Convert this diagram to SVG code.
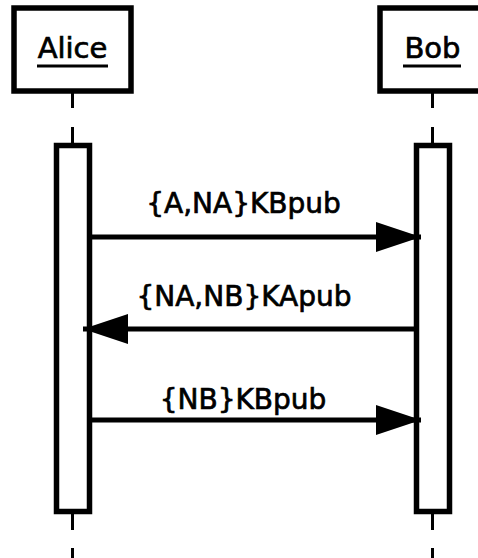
<svg xmlns="http://www.w3.org/2000/svg" width="478" height="558" viewBox="0 0 478 558">
<style>
.box{fill:#fff;stroke:#000;stroke-width:5.5}
.life{stroke:#000;stroke-width:3;fill:none}
.msg{stroke:#000;stroke-width:5;fill:none}
.name{font-family:"DejaVu Sans",sans-serif;font-size:29px;text-anchor:middle;fill:#000;stroke:#000;stroke-width:0.7}
.lbl{font-family:"DejaVu Sans",sans-serif;font-size:28px;text-anchor:middle;fill:#000;stroke:#000;stroke-width:0.7}
.ul{stroke:#000;stroke-width:3}
</style>
<defs>
<marker id="ah" markerUnits="userSpaceOnUse" markerWidth="46" markerHeight="30" refX="45" refY="15" orient="auto">
<path d="M0,0 L45,15 L0,30 Z" fill="#000"/>
</marker>
</defs>
<g id="alice">
<line class="life" x1="72.5" y1="91" x2="72.5" y2="108"/>
<line class="life" x1="72.5" y1="127" x2="72.5" y2="146"/>
<line class="life" x1="72.5" y1="512" x2="72.5" y2="530"/>
<line class="life" x1="72.5" y1="548" x2="72.5" y2="558"/>
<rect class="box" x="14" y="8" width="117" height="83"/>
<text class="name" x="72.5" y="58">Alice</text>
<line class="ul" x1="37" y1="66" x2="108" y2="66"/>
<rect class="box" x="56.5" y="145.5" width="33" height="366"/>
</g>
<g id="bob">
<line class="life" x1="432.5" y1="91" x2="432.5" y2="108"/>
<line class="life" x1="432.5" y1="127" x2="432.5" y2="146"/>
<line class="life" x1="432.5" y1="512" x2="432.5" y2="530"/>
<line class="life" x1="432.5" y1="548" x2="432.5" y2="558"/>
<rect class="box" x="380" y="8" width="110" height="83"/>
<text class="name" x="432.5" y="58">Bob</text>
<line class="ul" x1="403" y1="66" x2="461" y2="66"/>
<rect class="box" x="416.5" y="145.5" width="33" height="366"/>
</g>
<g id="connectors">
<line class="msg" x1="90" y1="237" x2="421" y2="237" marker-end="url(#ah)"/>
<text class="lbl" x="243.5" y="213">{A,NA}KBpub</text>
<line class="msg" x1="414" y1="329" x2="83" y2="329" marker-end="url(#ah)"/>
<text class="lbl" x="244" y="306">{NA,NB}KApub</text>
<line class="msg" x1="90" y1="420" x2="421" y2="420" marker-end="url(#ah)"/>
<text class="lbl" x="243" y="409">{NB}KBpub</text>
</g>
</svg>
